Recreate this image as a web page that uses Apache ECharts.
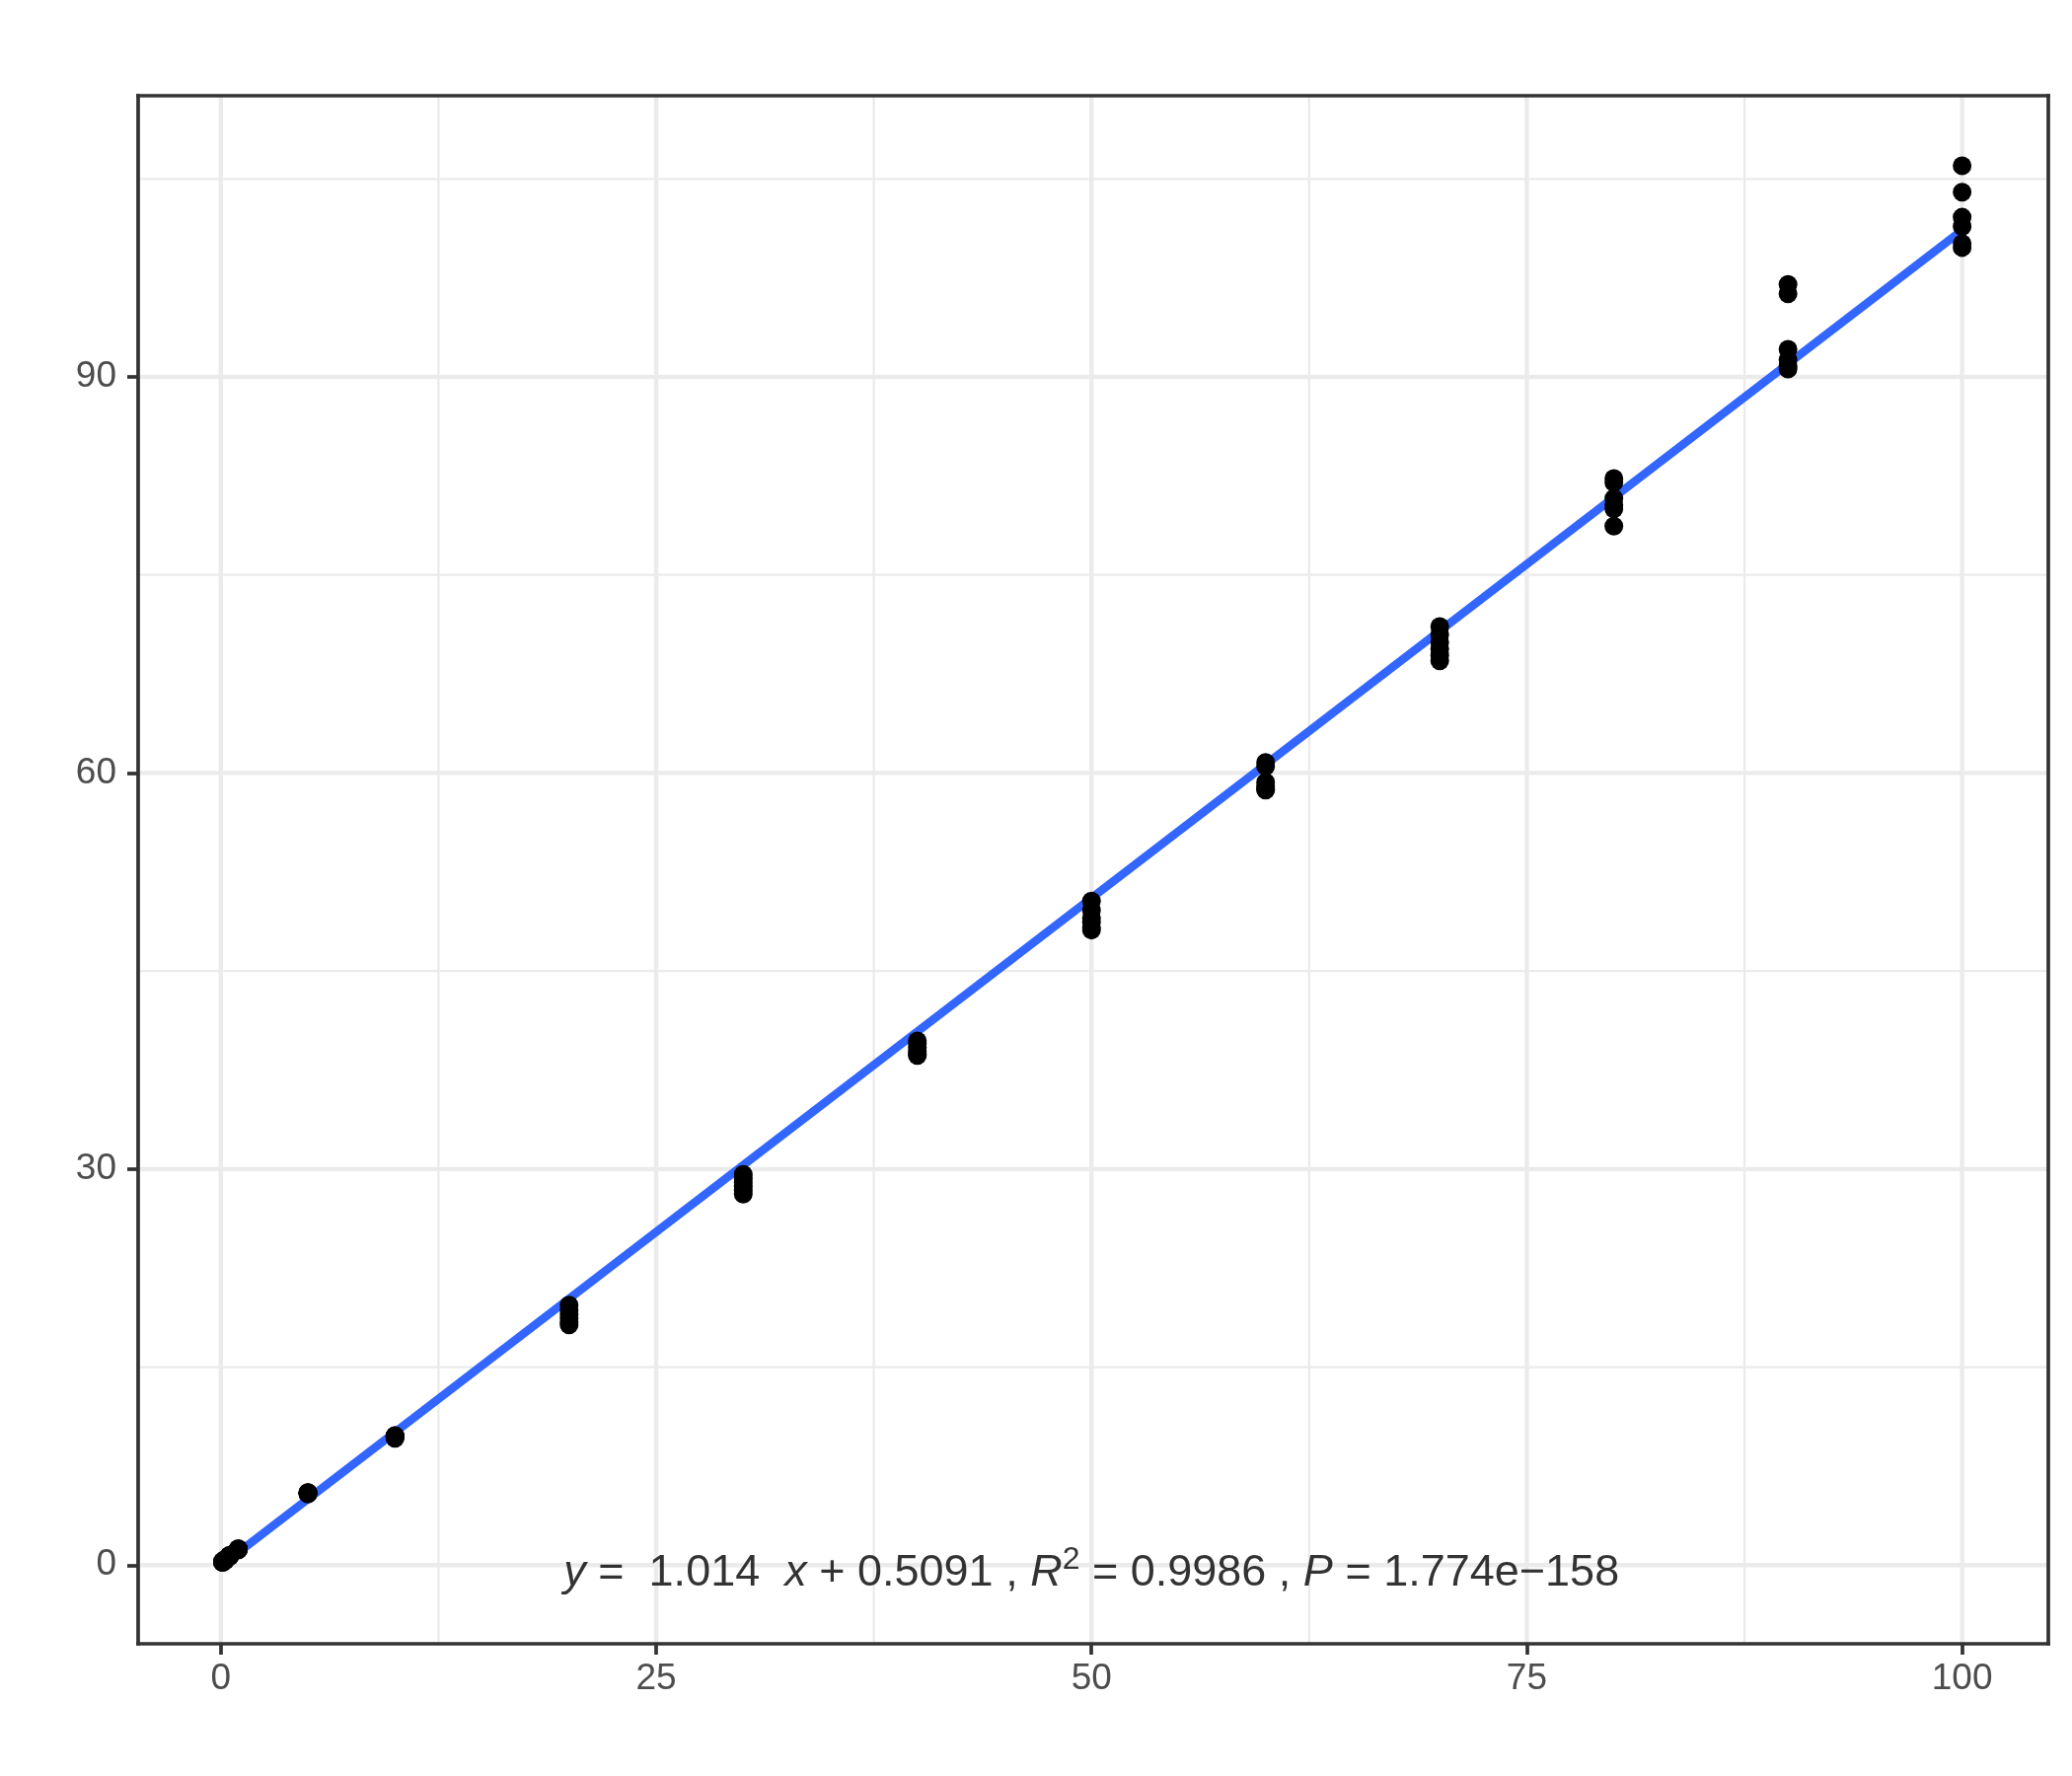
<!DOCTYPE html>
<html>
<head>
<meta charset="utf-8">
<script src="https://cdn.jsdelivr.net/npm/echarts@6/dist/echarts.min.js"></script>
<style>
html,body{margin:0;padding:0;background:#fff;}
#chart{width:2100px;height:1800px;}
</style>
</head>
<body>
<div id="chart"></div>
<script>
// ---- data ----
const concentrations = [0.1, 0.25, 0.5, 1, 5, 10, 20, 30, 40, 50, 60, 70, 80, 90, 100];
const measured = [
  [0.2, 0.25, 0.2, 0.3, 0.25, 0.2],
  [0.35, 0.4, 0.45, 0.4, 0.35, 0.4],
  [0.65, 0.7, 0.75, 0.7, 0.65, 0.7],
  [1.15, 1.2, 1.25, 1.2, 1.15, 1.2],
  [5.4, 5.5, 5.45, 5.4, 5.5, 5.45],
  [9.8, 9.7, 9.75, 9.6, 9.8, 9.7],
  [19.7, 19.3, 19.0, 18.7, 18.4, 18.2],
  [29.6, 29.3, 29.0, 28.7, 28.4, 28.1],
  [39.7, 39.5, 39.2, 38.9, 38.7, 38.6],
  [50.3, 49.6, 49.0, 48.7, 48.3, 48.1],
  [60.8, 60.5, 59.3, 59.0, 58.8, 58.7],
  [71.1, 70.5, 69.9, 69.4, 68.9, 68.5],
  [82.3, 82.0, 80.8, 80.3, 80.0, 78.7],
  [97.0, 96.3, 92.1, 91.3, 90.8, 90.6],
  [106.0, 104.0, 102.1, 101.4, 100.1, 99.8]
];
// fitted line as drawn (end points)
const fitLineX = [0.1, 100];
const fitLineY = [0.05, 101.1];
// equation label
const eqSlope = '1.014';
const eqIntercept = '0.5091';
const eqR2 = '0.9986';
const eqP = '1.774e\u2212158';
const labelAnchor = [50, -0.6];
// axis ticks
const xTicks = [0, 25, 50, 75, 100];
const xMinorTicks = [12.5, 37.5, 62.5, 87.5];
const yTicks = [0, 30, 60, 90];
const yMinorTicks = [15, 45, 75, 105];

// ---- layout ----
const X_MIN = -4.75, X_MAX = 104.95, Y_MIN = -5.96, Y_MAX = 111.3;
const FONT = '"Liberation Sans", Arial, Helvetica, sans-serif';

const points = [];
concentrations.forEach((c, i) => measured[i].forEach(v => points.push([c, v])));
const fitData = fitLineX.map((x, i) => [x, fitLineY[i]]);

const gridSeries = [];
function gl(data, w) {
  gridSeries.push({
    type: 'line', data: data, symbol: 'none', silent: true, z: 1,
    lineStyle: { color: '#EBEBEB', width: w }, animation: false
  });
}
xMinorTicks.forEach(v => gl([[v, Y_MIN], [v, Y_MAX]], 2.3));
yMinorTicks.forEach(v => gl([[X_MIN, v], [X_MAX, v]], 2.3));
xTicks.forEach(v => gl([[v, Y_MIN], [v, Y_MAX]], 4.4));
yTicks.forEach(v => gl([[X_MIN, v], [X_MAX, v]], 4.4));

const borderLine = { show: true, onZero: false, lineStyle: { color: '#333333', width: 3.7, cap: 'square' } };
const labelStyle = { fontSize: 37, color: '#4D4D4D', fontFamily: FONT };

const chart = echarts.init(document.getElementById('chart'), null, { renderer: 'canvas' });
chart.setOption({
  backgroundColor: '#ffffff',
  animation: false,
  grid: { left: 140, right: 24, top: 97, bottom: 134, containLabel: false },
  xAxis: [
    {
      type: 'value', min: X_MIN, max: X_MAX, position: 'bottom', z: 10,
      axisLine: borderLine,
      axisTick: { show: true, length: 11, customValues: xTicks, lineStyle: { color: '#333333', width: 3.7 } },
      axisLabel: Object.assign({ customValues: xTicks, margin: 17 }, labelStyle),
      splitLine: { show: false }
    },
    {
      type: 'value', min: X_MIN, max: X_MAX, position: 'top', z: 10,
      axisLine: borderLine, axisTick: { show: false }, axisLabel: { show: false }, splitLine: { show: false }
    }
  ],
  yAxis: [
    {
      type: 'value', min: Y_MIN, max: Y_MAX, position: 'left', z: 10,
      axisLine: borderLine,
      axisTick: { show: true, length: 11, customValues: yTicks, lineStyle: { color: '#333333', width: 3.7 } },
      axisLabel: Object.assign({ customValues: yTicks, margin: 22 }, labelStyle),
      splitLine: { show: false }
    },
    {
      type: 'value', min: Y_MIN, max: Y_MAX, position: 'right', z: 10,
      axisLine: borderLine, axisTick: { show: false }, axisLabel: { show: false }, splitLine: { show: false }
    }
  ],
  series: gridSeries.concat([
    {
      type: 'line', data: fitData, symbol: 'none', z: 3, silent: true,
      lineStyle: { color: '#3366FF', width: 8.5 }
    },
    {
      type: 'scatter', data: points, symbol: 'circle', symbolSize: 19, z: 4,
      itemStyle: { color: '#000000', opacity: 1 }
    },
    {
      type: 'scatter', data: [labelAnchor], symbolSize: 0, z: 5, silent: true,
      label: {
        show: true, position: 'inside',
        formatter: '{i|y}{n| =  ' + eqSlope + '  }{i|x}{n| + ' + eqIntercept + ' , }{i|R}{s|2}{n| = ' + eqR2 + ' , }{i|P}{n| = ' + eqP + '}',
        rich: {
          n: { fontSize: 45, fontFamily: FONT, color: '#000', lineHeight: 58, verticalAlign: 'middle' },
          i: { fontSize: 45, fontFamily: FONT, fontStyle: 'italic', color: '#000', lineHeight: 58, verticalAlign: 'middle' },
          s: { fontSize: 32, fontFamily: FONT, color: '#000', lineHeight: 58, verticalAlign: 'top' }
        }
      }
    }
  ])
});
</script>
</body>
</html>
